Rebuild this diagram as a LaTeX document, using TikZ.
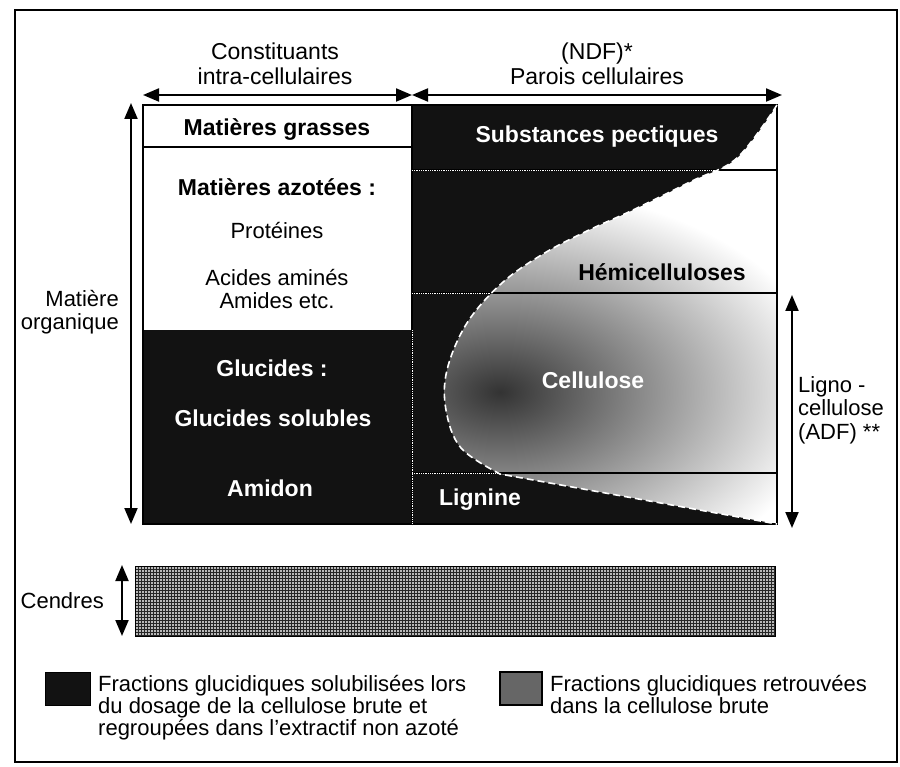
\documentclass[tikz,border=0pt]{standalone}
\usepackage{fontspec}
\setmainfont{Liberation Sans}
\usetikzlibrary{arrows.meta,patterns}

\tikzset{
  dimarrow/.style={line width=2pt,{Triangle[length=16pt,width=13pt]}-{Triangle[length=16pt,width=13pt]}},
  rowline/.style={line width=1.3pt},
  darkfill/.style={fill=black!93},
  lbl/.style={font=\fontsize{22}{23.5}\selectfont, align=center, inner sep=0pt},
  hdlbl/.style={font=\fontsize{23}{24.5}\selectfont, align=center, inner sep=0pt},
  blbl/.style={font=\fontsize{23}{25}\selectfont\bfseries, inner sep=0pt},
  wlbl/.style={blbl, text=white},
  keytext/.style={font=\fontsize{22}{22}\selectfont, align=left, inner sep=0pt, anchor=north west},
  cellwall/.style={insert path={-- plot[smooth, tension=0.6] coordinates {(777,105) (737,158) (692,181) (633,210) (587,231) (543,254) (502,283) (467,323) (447,370) (446,410) (461,448) (500,474)} -- (777,524)}}
}

\begin{document}
\begin{tikzpicture}[x=1pt,y=-1pt]
\useasboundingbox (0,0) rectangle (900,767);
\draw[line width=1.3pt] (15,10) rectangle (897,762);

% coins du tableau
\coordinate (nw) at (143,105);
\coordinate (nm) at (412,105);
\coordinate (ne) at (777,105);
\coordinate (sw) at (143,524);
\coordinate (sm) at (412,524);
\coordinate (se) at (777,524);

% partie retrouvee dans la cellulose brute
\begin{scope}
  \clip (ne) [cellwall] -- cycle;
  \shade[inner color=black!80, outer color=white] (500,392) ellipse [x radius=330, y radius=205];
\end{scope}

% parties solubilisees
\fill[darkfill] (nm) -- (ne) [cellwall] -- (sm) -- cycle;
\fill[darkfill] (143,330) rectangle (sm);

\draw[rowline] (143,147) -- (412,147);
\foreach \y in {170,293,473}
  \draw[rowline] (412,\y) -- (777,\y);
\draw[rowline] (nw) rectangle (sm);
\draw[rowline] (nm) rectangle (se);

\begin{scope}
  \clip (nm) -- (ne) [cellwall] -- (sm) -- cycle;
  \foreach \y in {170,293,473}
    \draw[white, densely dotted, line width=0.8pt] (412,\y) -- (777,\y);
\end{scope}
\draw[white, densely dotted, line width=0.8pt] (412,330) -- (sm);
\draw[white, line width=1.6pt, dash pattern=on 7pt off 4pt] (ne) [cellwall];

% fleches
\coordinate (intraL) at (143,95);
\coordinate (intraR) at (412,95);
\coordinate (ndfR) at (782,95);
\coordinate (moT) at (131,103);
\coordinate (moB) at (131,524);
\coordinate (adfT) at (792,295);
\coordinate (adfB) at (792,528);
\coordinate (ceT) at (122,565);
\coordinate (ceB) at (122,636);
\draw[dimarrow] (intraL) -- (intraR);
\draw[dimarrow] (intraR) -- (ndfR);
\draw[dimarrow] (moT) -- (moB);
\draw[dimarrow] (adfT) -- (adfB);
\draw[dimarrow] (ceT) -- (ceB);

% textes
\node[hdlbl] (intra) at (275,64) {Constituants\\intra-cellulaires};
\node[hdlbl] (ndf) at (597,64) {(NDF)*\\Parois cellulaires};
\node[lbl, align=right, anchor=east] (mo) at (119,312) {Matière\\organique};
\node[lbl, align=left, anchor=west] (adf) at (798,410) {Ligno -\\cellulose\\(ADF) **};

\node[blbl] (mg) at (277,130) {Matières grasses};
\node[blbl] (maz) at (277,187) {Matières azotées :};
\node[lbl] (prot) at (277,231) {Protéines};
\node[lbl] (aa) at (277,289) {Acides aminés\\Amides etc.};
\node[wlbl] (gluc) at (272,368) {Glucides :};
\node[wlbl] (gsol) at (273,418) {Glucides solubles};
\node[wlbl] (amid) at (270,488) {Amidon};

\node[wlbl] (pect) at (597,137) {Substances pectiques};
\node[blbl] (hemi) at (662,272) {Hémicelluloses};
\node[wlbl] (cell) at (593,380) {Cellulose};
\node[wlbl] (lign) at (480,500) {Lignine};

% cendres
\fill[gray!55] (135,566) rectangle (775,636);
\fill[pattern=grid, pattern color=black!85] (135,566) rectangle (775,636);
\draw[line width=1pt] (135,566) rectangle (775,636);
\node[lbl, anchor=east] (cend) at (104,601) {Cendres};

% legende
\draw[darkfill, line width=1pt] (45,672) rectangle (90,705);
\node[keytext] (key1) at (98,675) {Fractions glucidiques solubilisées lors\\du dosage de la cellulose brute et\\regroupées dans l'extractif non azoté};
\draw[fill=black!60, line width=1.5pt] (500,672) rectangle (542,705);
\node[keytext] (key2) at (550,675) {Fractions glucidiques retrouvées\\dans la cellulose brute};
\end{tikzpicture}
\end{document}
